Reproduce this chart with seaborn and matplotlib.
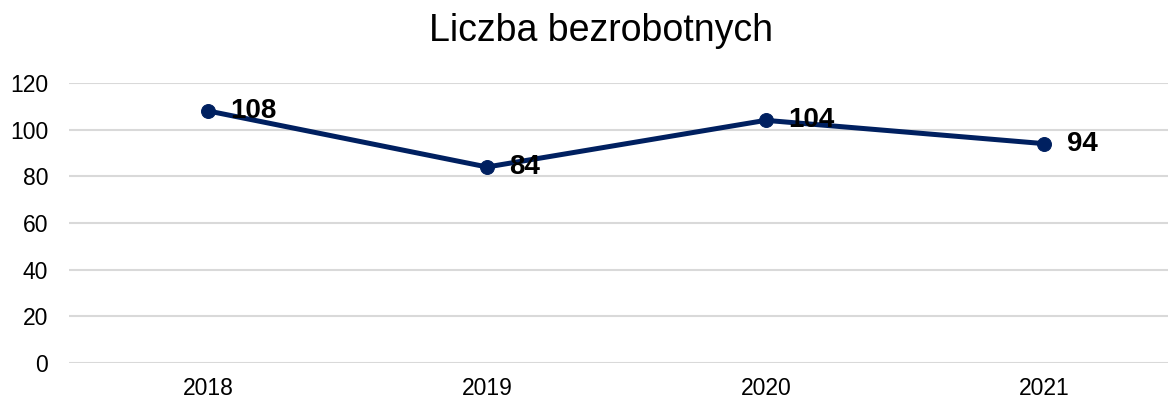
import matplotlib
matplotlib.use("Agg")
import matplotlib.pyplot as plt
import seaborn as sns
import pandas as pd

years = ["2018", "2019", "2020", "2021"]
unemployed = [108, 84, 104, 94]
y_ticks = [0, 20, 40, 60, 80, 100, 120]

df = pd.DataFrame({"Rok": years, "Liczba": unemployed})

sns.set_theme(style="white")
plt.rcParams["font.family"] = ["Liberation Sans", "DejaVu Sans"]

fig = plt.figure(figsize=(11.68, 4), dpi=100)
ax = fig.add_axes([69 / 1168, 37 / 400, 1099 / 1168, 280 / 400])

line_color = "#002060"
sns.lineplot(data=df, x="Rok", y="Liczba", ax=ax, color=line_color,
             linewidth=3.6, marker="o", markersize=10,
             markeredgecolor=line_color, markerfacecolor=line_color)

for i, v in enumerate(unemployed):
    ax.annotate(str(v), (i, v), xytext=(16, 0), textcoords="offset points",
                ha="left", va="center", fontsize=20, fontweight="bold",
                color="black")

ax.set_xlim(-0.5, -0.5 + 1099 / 278.7)
ax.set_ylim(0, 120)
ax.set_yticks(y_ticks)
ax.yaxis.grid(True, color="#D9D9D9", linewidth=1.5)
ax.set_axisbelow(True)
for s in ax.spines.values():
    s.set_visible(False)
ax.tick_params(axis="both", length=0, labelsize=16.5, colors="black")
ax.tick_params(axis="y", pad=15)
ax.tick_params(axis="x", pad=10)
ax.set_xlabel("")
ax.set_ylabel("")

fig.text(0.5145, 0.922, "Liczba bezrobotnych", ha="center", va="center",
         fontsize=27, color="black")

fig.savefig("out.png", dpi=100)
